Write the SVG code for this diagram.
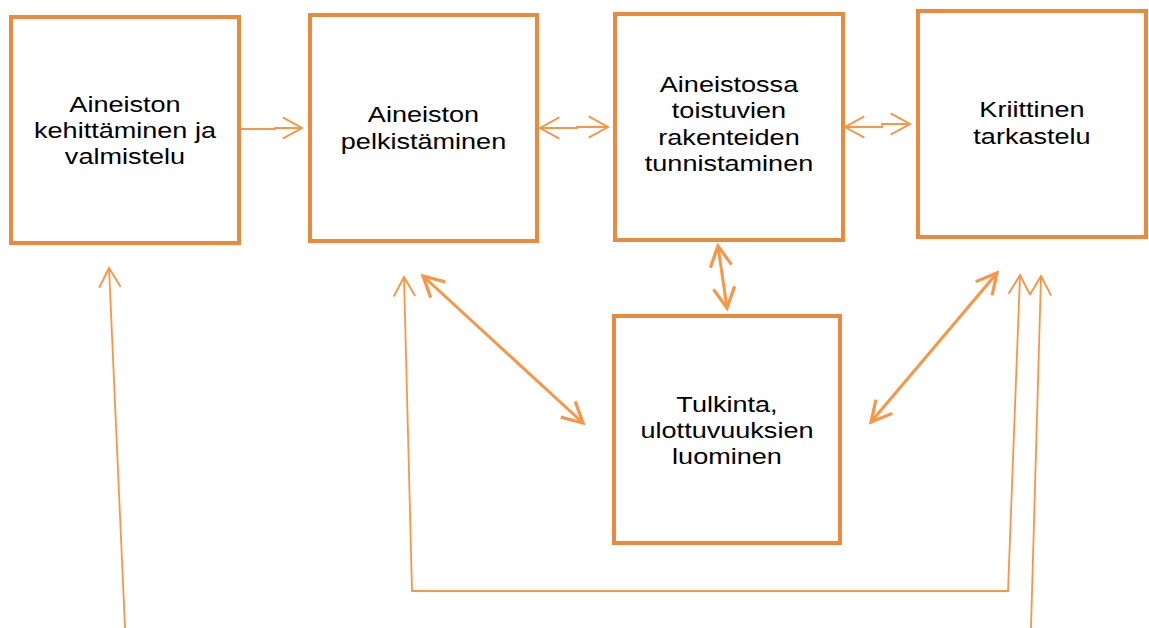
<svg xmlns="http://www.w3.org/2000/svg" width="1149" height="628" viewBox="0 0 1149 628">
<style>
.box{fill:#fff;stroke:#E88B3F;stroke-width:4}
.t{font-family:"Liberation Sans",Arial,sans-serif;font-size:22px;fill:#000;text-anchor:middle}
.thin{fill:none;stroke:#F79646;stroke-width:1.8}
.thick{fill:none;stroke:#F79646;stroke-width:3}
</style>
<defs>
<marker id="ah1" markerUnits="userSpaceOnUse" markerWidth="30" markerHeight="30" viewBox="-22 -14 26 28" refX="0" refY="0" orient="auto-start-reverse" overflow="visible">
<path d="M-18,-10 L0,0 L-18,10" fill="none" stroke="#F79646" stroke-width="1.8"/>
</marker>
<marker id="ah2" markerUnits="userSpaceOnUse" markerWidth="30" markerHeight="30" viewBox="-22 -14 26 28" refX="0" refY="0" orient="auto-start-reverse" overflow="visible">
<path d="M-19,-10 L0,0 L-19,10" fill="none" stroke="#F79646" stroke-width="3"/>
</marker>
</defs>
<rect width="1149" height="628" fill="#fff"/>
<g id="n1"><rect class="box" x="11" y="17" width="228" height="226"/>
<g transform="translate(125,0) scale(1.23,1)"><text class="t" x="0" y="112">Aineiston</text><text class="t" x="0" y="138">kehittäminen ja</text><text class="t" x="0" y="164">valmistelu</text></g></g>
<g id="n2"><rect class="box" x="310" y="15" width="227" height="226"/>
<g transform="translate(423.5,0) scale(1.23,1)"><text class="t" x="0" y="122">Aineiston</text><text class="t" x="0" y="149">pelkistäminen</text></g></g>
<g id="n3"><rect class="box" x="615" y="14" width="228" height="226"/>
<g transform="translate(729,0) scale(1.23,1)"><text class="t" x="0" y="92">Aineistossa</text><text class="t" x="0" y="118.5">toistuvien</text><text class="t" x="0" y="145">rakenteiden</text><text class="t" x="0" y="171">tunnistaminen</text></g></g>
<g id="n4"><rect class="box" x="918" y="11" width="228" height="226"/>
<g transform="translate(1032,0) scale(1.23,1)"><text class="t" x="0" y="117">Kriittinen</text><text class="t" x="0" y="144">tarkastelu</text></g></g>
<g id="n5"><rect class="box" x="614" y="316" width="226" height="227"/>
<g transform="translate(727,0) scale(1.23,1)"><text class="t" x="0" y="412">Tulkinta,</text><text class="t" x="0" y="438">ulottuvuuksien</text><text class="t" x="0" y="464">luominen</text></g></g>
<g id="connectors">
<path class="thin" d="M241,129 H275 V128 H302" marker-end="url(#ah1)"/>
<path class="thin" d="M540,128 H577 V127 H608" marker-start="url(#ah1)" marker-end="url(#ah1)"/>
<path class="thin" d="M845,127 H882 V124 H910" marker-start="url(#ah1)" marker-end="url(#ah1)"/>
<path class="thick" d="M718,246 L727,308" marker-start="url(#ah2)" marker-end="url(#ah2)"/>
<path class="thick" d="M423,276 L583,423" marker-start="url(#ah2)" marker-end="url(#ah2)"/>
<path class="thick" d="M997,273 L871,422" marker-start="url(#ah2)" marker-end="url(#ah2)"/>
<path class="thin" d="M125,628 L109,268" marker-end="url(#ah1)"/>
<path class="thin" d="M404,277 L412,591 H1008 L1020,275" marker-start="url(#ah1)" marker-end="url(#ah1)"/>
<path class="thin" d="M1031,628 L1041,276" marker-end="url(#ah1)"/>
</g>
</svg>
